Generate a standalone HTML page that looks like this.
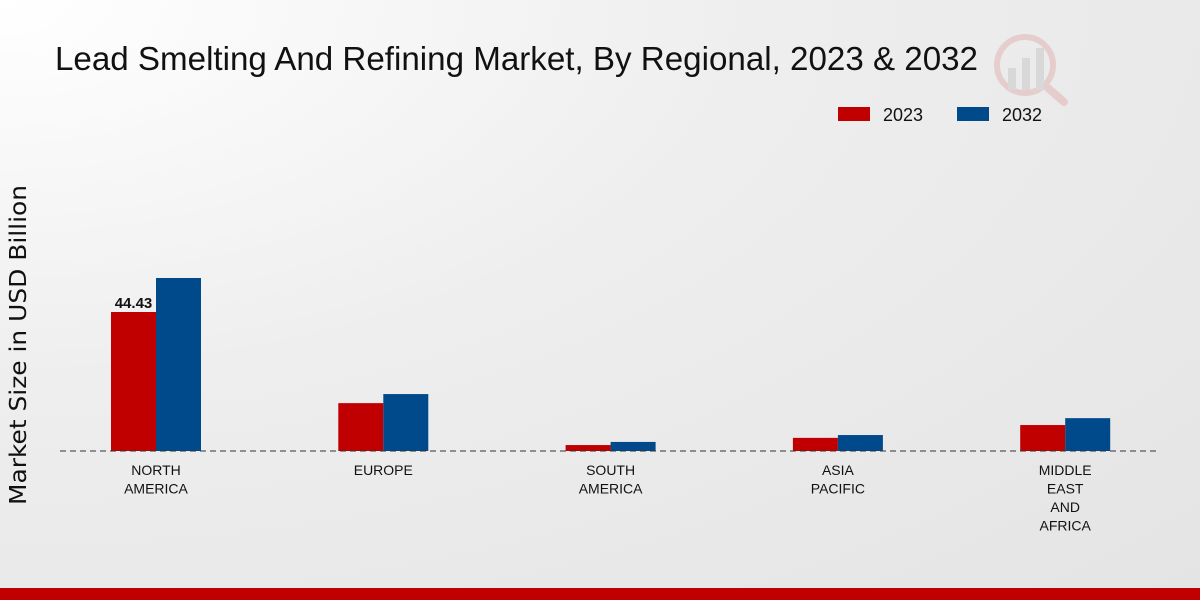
<!DOCTYPE html>
<html><head><meta charset="utf-8"><style>
html,body{margin:0;padding:0;width:1200px;height:600px;overflow:hidden}
body{background:radial-gradient(ellipse at 0% 0%,#ffffff 0%,#eeeeee 45%,#e4e4e4 100%);font-family:"Liberation Sans",sans-serif}
</style></head><body>
<svg id="chart" width="1200" height="600" xmlns="http://www.w3.org/2000/svg">
<text x="55" y="70" font-size="33" fill="#111" textLength="923" lengthAdjust="spacingAndGlyphs">Lead Smelting And Refining Market, By Regional, 2023 &amp; 2032</text>
<text transform="translate(26,345) rotate(-90)" text-anchor="middle" font-size="23" font-family="DejaVu Sans, sans-serif" fill="#111" textLength="320" lengthAdjust="spacingAndGlyphs">Market Size in USD Billion</text>
<g>
<rect x="838" y="107" width="32" height="14" fill="#c00000"/>
<text x="883" y="121" font-size="18" fill="#111">2023</text>
<rect x="957" y="107" width="32" height="14" fill="#004a8c"/>
<text x="1002" y="121" font-size="18" fill="#111">2032</text>
</g>
<g id="bars"></g>
<line x1="60" y1="451" x2="1160" y2="451" stroke="#333" stroke-dasharray="6,4" stroke-width="1"/>
<g id="labels"></g>
<rect x="0" y="588" width="1200" height="12" fill="#c00000"/>
<g opacity="0.12">
<circle cx="1025" cy="65" r="28" fill="none" stroke="#c00000" stroke-width="6"/>
<rect x="1008" y="68" width="8" height="22" fill="#555"/><rect x="1022" y="58" width="8" height="32" fill="#555"/><rect x="1036" y="48" width="8" height="42" fill="#555"/>
<line x1="1048" y1="88" x2="1064" y2="102" stroke="#c00000" stroke-width="8" stroke-linecap="round"/>
</g>
</svg>
<script>
const categories=[["NORTH","AMERICA"],["EUROPE"],["SOUTH","AMERICA"],["ASIA","PACIFIC"],["MIDDLE","EAST","AND","AFRICA"]];
const values2023=[44.43,15.3,1.9,4.2,8.3];
const values2032=[55.3,18.2,2.9,5.1,10.5];
const shownLabels=["44.43",null,null,null,null];
const NS="http://www.w3.org/2000/svg";
const baseY=451, pxPerUnit=139/44.43, x0=156, step=227.3, bw=45;
function yScale(v){return baseY-v*pxPerUnit;}
function xCenter(i){return x0+i*step;}
const bars=document.getElementById('bars'), labels=document.getElementById('labels');
categories.forEach((c,i)=>{
  const cx=xCenter(i);
  [[values2023,"#c00000",cx-bw,"2023"],[values2032,"#004a8c",cx,"2032"]].forEach(([arr,col,x,yr])=>{
    const r=document.createElementNS(NS,'rect');
    r.setAttribute('x',x);r.setAttribute('y',yScale(arr[i]));r.setAttribute('width',bw);r.setAttribute('height',baseY-yScale(arr[i]));r.setAttribute('fill',col);
    
    
    bars.appendChild(r);
  });
  if(shownLabels[i]){
    const t=document.createElementNS(NS,'text');
    t.setAttribute('x',cx-bw/2);t.setAttribute('y',yScale(values2023[i])-4);t.setAttribute('text-anchor','middle');t.setAttribute('font-size','15');t.setAttribute('font-weight','bold');t.setAttribute('fill','#111');
    t.textContent=shownLabels[i];
    
    
    labels.appendChild(t);
  }
  c.forEach((line,j)=>{
    const t=document.createElementNS(NS,'text');
    t.setAttribute('x',cx);t.setAttribute('y',475+j*18.5);t.setAttribute('text-anchor','middle');t.setAttribute('font-size','14');t.setAttribute('fill','#111');
    t.textContent=line;
    
    
    labels.appendChild(t);
  });
});
</script>
</body></html>
